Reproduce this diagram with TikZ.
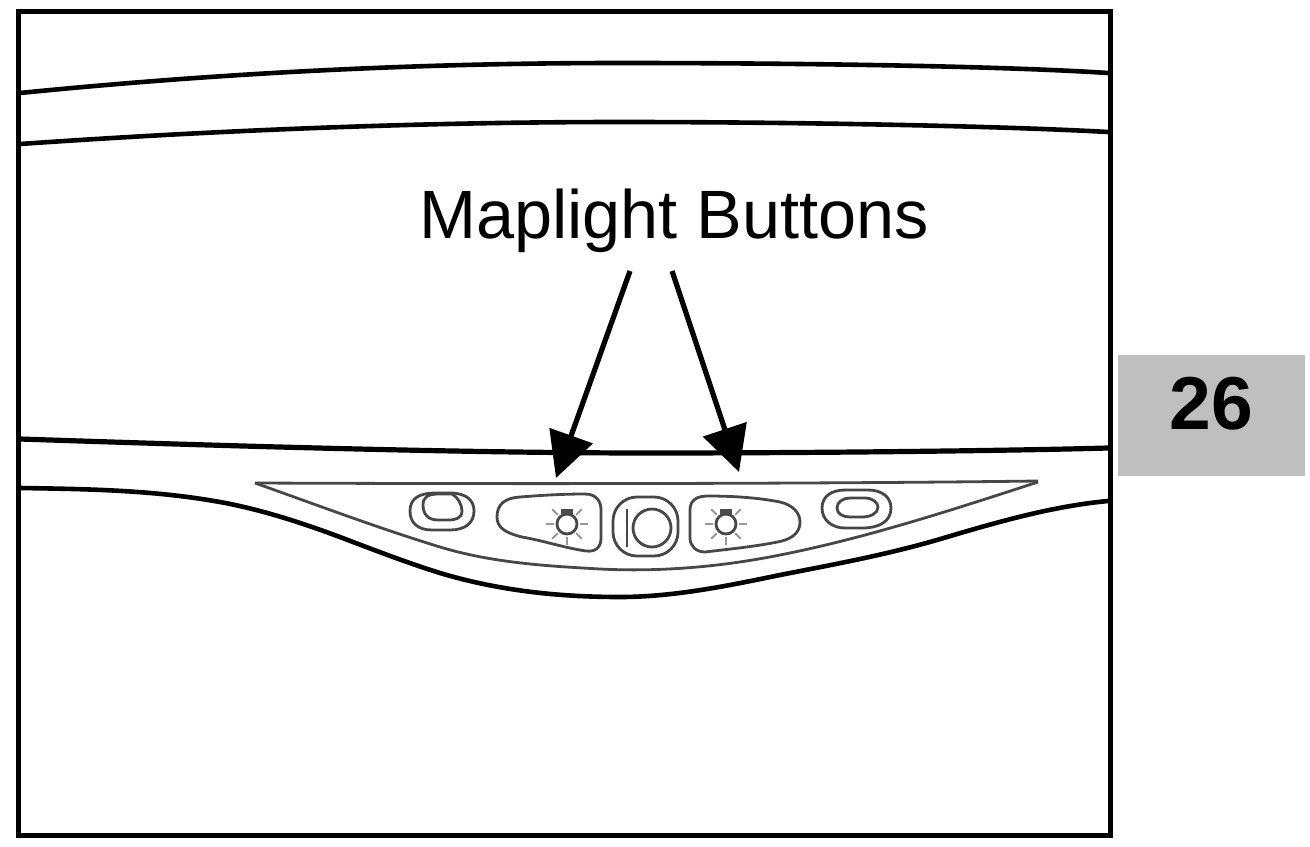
\documentclass[tikz,border=0pt]{standalone}
\usepackage{fontspec}
\setmainfont{Liberation Sans}
\usetikzlibrary{arrows.meta}
\tikzset{
  thick line/.style={line width=2.3pt,draw=black,line cap=round},
  thin line/.style={line width=1.4pt,draw=black!72,line join=round},
  pointer/.style={line width=2.6pt,draw=black,-{Triangle[length=22.5pt,width=22.5pt,fill=black]}},
  ray/.style={line width=1pt,draw=black!40},
}
\newcommand{\sunicon}[1]{%
  \begin{scope}[shift={#1}]
    \draw[thin line] (0,0) circle (10);
    \fill[black!70] (-6,-15) rectangle (6,-10);
    \foreach \a in {-45,-135,180,0,45,90,135}{\draw[ray] (\a:13) -- (\a:21);}
  \end{scope}}
\begin{document}
\begin{tikzpicture}[x=0.5pt,y=-0.5pt]
\useasboundingbox (0,0) rectangle (1310,846);
\fill[white] (0,0) rectangle (1310,846);
% roof lines
\draw[thick line] (20,93) .. controls (250,70) and (450,63) .. (620,63) .. controls (800,63) and (1000,66) .. (1108,73);
\draw[thick line] (20,144) .. controls (250,128) and (450,122) .. (620,122) .. controls (800,122) and (1000,126) .. (1108,132);
\draw[thick line,line width=2.6pt] (20,439) .. controls (200,445) and (450,453) .. (650,453) .. controls (800,453) and (1000,451) .. (1108,448);
\draw[thick line] (20,488) .. controls (87,489) and (153,490) .. (220,502) .. controls (264,510) and (309,525) .. (353,542) .. controls (382,553) and (411,564) .. (440,573) .. controls (500,591) and (560,597) .. (620,597) .. controls (673,597) and (727,586) .. (780,575) .. controls (836,564) and (891,554) .. (947,537) .. controls (1001,521) and (1054,506) .. (1108,501);
% inset panel
\draw[thin line] (255,483) .. controls (317,505) and (378,528) .. (440,547) .. controls (493,563) and (547,566) .. (600,569) .. controls (660,572) and (720,567) .. (780,555) .. controls (866,538) and (952,510) .. (1038,482);
\draw[thin line] (255,483) .. controls (500,484) and (800,484) .. (1038,481);
% left switch
\draw[thin line] (410,511) .. controls (410,498) and (420,493) .. (435,493) -- (450,493) .. controls (466,493) and (474,500) .. (474,511) .. controls (474,523) and (465,530) .. (450,530) -- (432,530) .. controls (418,530) and (410,523) .. cycle;
\draw[thin line] (423,505) .. controls (423,497) and (428,494) .. (438,494) -- (452,494) .. controls (458,497) and (462,505) .. (462,511) .. controls (462,518) and (456,520) .. (448,520) -- (438,520) .. controls (428,520) and (423,514) .. cycle;
% left lamp button
\draw[thin line] (497,517) .. controls (497,504) and (505,498) .. (520,497) .. controls (545,495) and (565,494) .. (585,494) .. controls (597,494) and (601,502) .. (601,510) -- (601,538) .. controls (601,548) and (595,552) .. (586,551) .. controls (565,548) and (545,541) .. (522,537) .. controls (506,533) and (497,528) .. cycle;
\sunicon{(567,524)}
% centre button
\draw[thin line,rounded corners=12] (613,497) rectangle (678,556);
\draw[thin line] (627,509) -- (627,547);
\draw[thin line] (652,528) circle (19);
% right lamp button
\draw[thin line] (690,510) .. controls (690,500) and (697,496) .. (708,496) .. controls (735,496) and (760,498) .. (780,502) .. controls (793,505) and (800,513) .. (800,522) .. controls (800,532) and (793,538) .. (782,541) .. controls (760,546) and (730,549) .. (705,552) .. controls (696,552) and (690,546) .. (690,538) -- cycle;
\sunicon{(726,524)}
% right switch
\draw[thin line] (822,508) .. controls (822,496) and (832,490) .. (845,490) -- (868,490) .. controls (883,490) and (891,498) .. (891,508) .. controls (891,521) and (880,528) .. (862,528) -- (845,528) .. controls (832,528) and (822,520) .. cycle;
\draw[thin line] (837,508) .. controls (837,502) and (843,498) .. (850,498) -- (865,498) .. controls (873,498) and (878,503) .. (878,507) .. controls (878,513) and (871,517) .. (862,517) -- (850,517) .. controls (843,517) and (837,514) .. cycle;
% frame
\draw[line width=2.5pt,draw=black] (18,11) rectangle (1110,835);
% label and pointers
\node[inner sep=0,font=\fontsize{34.2}{40}\selectfont] (lbl) at (674,221) {Maplight Buttons};
\coordinate (s1) at (630,271);
\coordinate (s2) at (672,271);
\coordinate (t1) at (556,478);
\coordinate (t2) at (739,472);
\draw[pointer] (s1) -- (t1);
\draw[pointer] (s2) -- (t2);
% page tab
\node[fill=black!25,minimum width=93.5pt,minimum height=60.5pt,inner sep=0] (tab) at (1211.5,415.5) {};
\node[inner sep=0,font=\fontsize{37.5}{44}\selectfont\bfseries] (num) at (1211,404) {26};
\end{tikzpicture}
\end{document}
